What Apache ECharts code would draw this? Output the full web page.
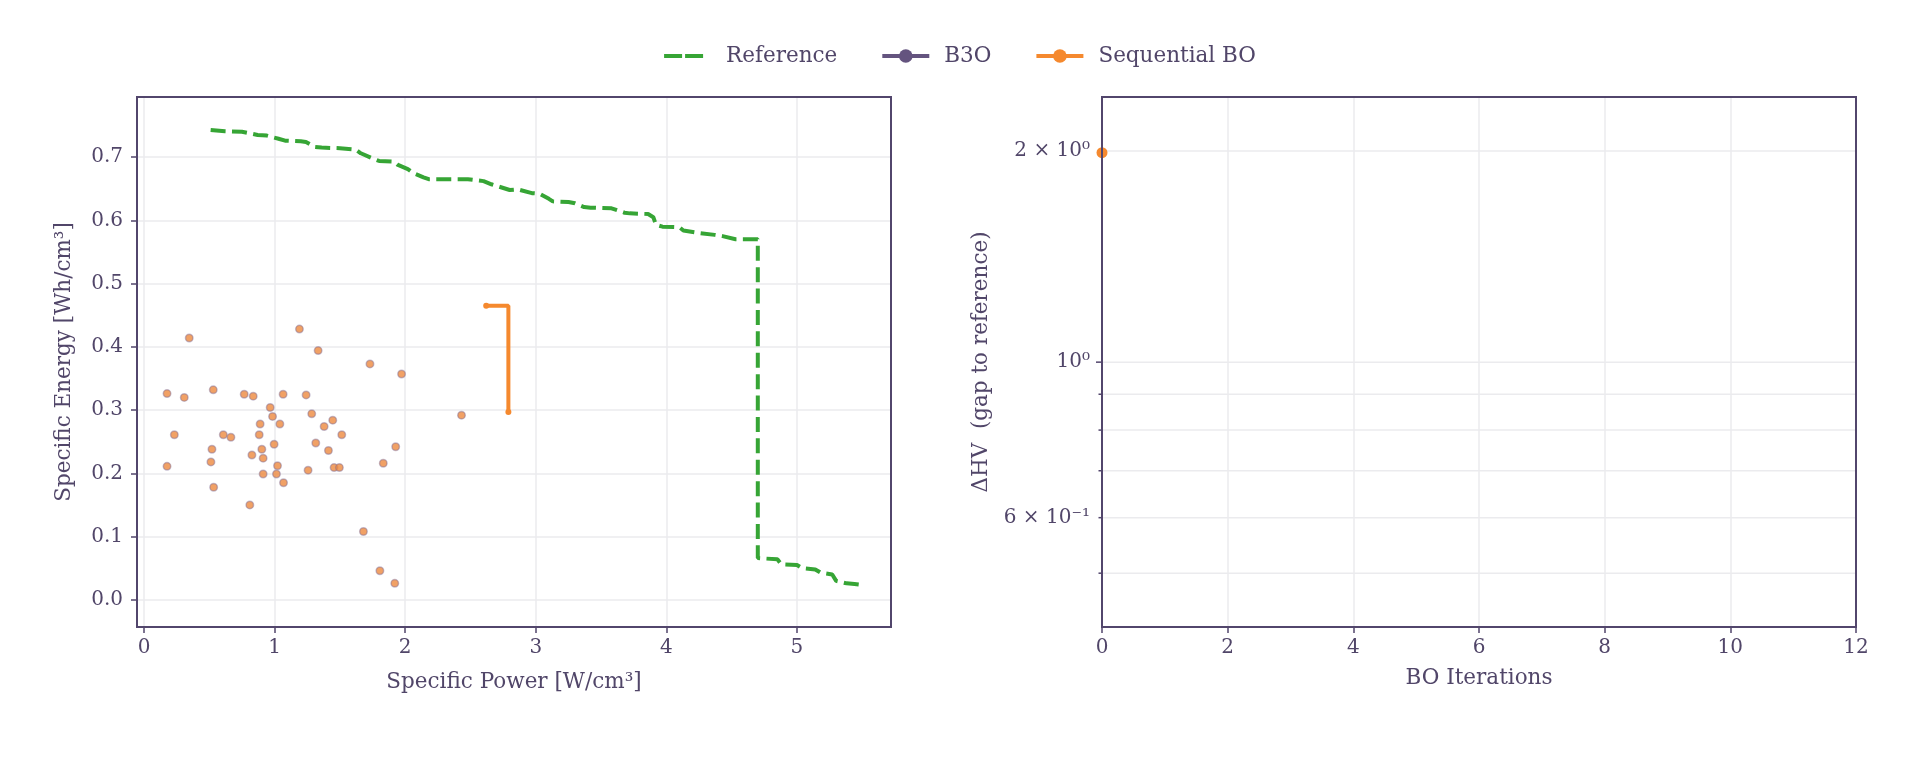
<!DOCTYPE html>
<html>
<head>
<meta charset="utf-8">
<script src="https://cdn.jsdelivr.net/npm/echarts@6/dist/echarts.min.js"></script>
<style>
html,body{margin:0;padding:0;background:#ffffff;}
#chart{width:1920px;height:760px;}
</style>
</head>
<body>
<div id="chart"></div>
<script>
// ---------- data ----------
const refPower  = [0.51,0.62,0.75,0.80,0.87,0.94,1.03,1.08,1.20,1.24,1.31,1.36,1.50,1.62,1.66,1.76,1.80,1.91,1.94,2.02,2.06,2.14,2.18,2.48,2.60,2.66,2.80,2.86,2.97,3.03,3.10,3.13,3.25,3.30,3.37,3.42,3.58,3.68,3.72,3.86,3.90,3.92,3.97,4.10,4.13,4.25,4.37,4.43,4.53,4.70,4.70,4.85,4.88,5.00,5.04,5.14,5.18,5.27,5.30,5.38,5.44,5.52];
const refEnergy = [0.743,0.741,0.740,0.738,0.735,0.734,0.729,0.726,0.725,0.724,0.716,0.715,0.714,0.712,0.706,0.697,0.694,0.693,0.688,0.681,0.675,0.668,0.665,0.665,0.662,0.657,0.648,0.649,0.643,0.642,0.634,0.630,0.629,0.627,0.621,0.620,0.619,0.612,0.611,0.610,0.605,0.593,0.590,0.589,0.584,0.580,0.577,0.575,0.570,0.570,0.066,0.064,0.056,0.055,0.050,0.048,0.043,0.040,0.030,0.026,0.025,0.023];

const samplePower  = [0.346,0.176,0.308,0.530,0.232,0.176,0.520,0.512,0.533,0.607,0.665,0.767,0.836,0.810,0.826,0.889,0.882,0.902,0.912,0.912,0.966,0.984,1.040,0.996,1.022,1.014,1.068,1.065,1.190,1.333,1.241,1.284,1.379,1.445,1.315,1.412,1.514,1.256,1.455,1.496,1.730,1.972,1.927,1.832,1.680,1.806,2.431,1.920];
const sampleEnergy = [0.414,0.326,0.320,0.332,0.261,0.211,0.238,0.218,0.178,0.261,0.257,0.325,0.322,0.150,0.229,0.278,0.261,0.238,0.224,0.199,0.304,0.290,0.278,0.246,0.212,0.199,0.185,0.325,0.428,0.394,0.324,0.294,0.274,0.284,0.248,0.236,0.261,0.205,0.209,0.209,0.373,0.357,0.242,0.216,0.108,0.046,0.292,0.026];

const seqParetoPower  = [2.62, 2.79];
const seqParetoEnergy = [0.465, 0.297];

const boIterations = [0];
const seqGap = [1.99];
const b3oGap = [];

const powerTicks  = [0, 1, 2, 3, 4, 5];
const energyTicks = [0, 0.1, 0.2, 0.3, 0.4, 0.5, 0.6, 0.7];
const gapTicks       = [0.5, 0.6, 0.7, 0.8, 0.9, 1, 2];
const gapTickLabels  = ['', '6 × 10⁻¹', '', '', '', '10⁰', '2 × 10⁰'];
const gapTickMajor   = [0, 0, 0, 0, 0, 1, 0];

// ---------- style ----------
const FONT = '"DejaVu Serif", serif';
const TXT = '#514669';
const SPINE = '#52466c';
const GRIDC = '#ebebee';
const GREEN = '#36a535';
const ORANGE = '#f5892e';
const PURPLE = '#64547f';

const zip = (a, b) => a.map((v, i) => [v, b[i]]);

const chart = echarts.init(document.getElementById('chart'), null, {renderer: 'canvas'});

const xMinR = 0, xMaxR = 12;

const option = {
  animation: false,
  backgroundColor: '#ffffff',
  legend: {
    top: 40,
    left: 'center',
    itemWidth: 47,
    itemHeight: 17,
    itemGap: 43,
    lineStyle: {width: 4},
    textStyle: {fontFamily: FONT, fontSize: 21.5, color: TXT, padding: [0, 0, 0, 10]},
    data: [
      {name: 'Reference', icon: 'path://M0,0L0.01,0Z M0,6.5H18V10.5H0Z M21,6.5H39V10.5H21Z M46.99,17L47,17Z'},
      {name: 'B3O'},
      {name: 'Sequential BO'}
    ]
  },
  grid: [
    {left: 137, top: 97, width: 754, height: 530, show: true, borderColor: SPINE, borderWidth: 2, z: 10},
    {left: 1102, top: 97, width: 754, height: 530, show: true, borderColor: SPINE, borderWidth: 2, z: 10}
  ],
  xAxis: [
    {
      type: 'value', gridIndex: 0, min: -0.054, max: 5.72,
      name: 'Specific Power [W/cm³]', nameLocation: 'middle', nameGap: 44,
      nameTextStyle: {fontFamily: FONT, fontSize: 21.5, color: TXT},
      axisLine: {show: false, onZero: false},
      axisTick: {show: true, length: 6, customValues: powerTicks, lineStyle: {color: SPINE, width: 1.5}},
      axisLabel: {customValues: powerTicks, margin: 11, fontFamily: FONT, fontSize: 20, color: TXT, formatter: v => String(v)},
      splitLine: {show: true, lineStyle: {color: GRIDC, width: 1.5}}
    },
    {
      type: 'value', gridIndex: 1, min: xMinR, max: xMaxR, interval: 2,
      name: 'BO Iterations', nameLocation: 'middle', nameGap: 40,
      nameTextStyle: {fontFamily: FONT, fontSize: 21.5, color: TXT},
      axisLine: {show: false, onZero: false},
      axisTick: {show: true, length: 6, lineStyle: {color: SPINE, width: 1.5}},
      axisLabel: {margin: 11, fontFamily: FONT, fontSize: 20, color: TXT},
      splitLine: {show: true, lineStyle: {color: GRIDC, width: 1.5}}
    }
  ],
  yAxis: [
    {
      type: 'value', gridIndex: 0, min: -0.043, max: 0.795,
      name: 'Specific Energy [Wh/cm³]', nameLocation: 'middle', nameGap: 62, nameRotate: 90,
      nameTextStyle: {fontFamily: FONT, fontSize: 21.5, color: TXT},
      axisLine: {show: false, onZero: false},
      axisTick: {show: true, length: 6, customValues: energyTicks, lineStyle: {color: SPINE, width: 1.5}},
      axisLabel: {customValues: energyTicks, margin: 14, fontFamily: FONT, fontSize: 20, color: TXT, formatter: v => v.toFixed(1)},
      splitLine: {show: true, lineStyle: {color: GRIDC, width: 1.5}}
    },
    {
      type: 'log', logBase: 10, gridIndex: 1, min: 0.419, max: 2.389,
      name: 'ΔHV  (gap to reference)', nameLocation: 'middle', nameGap: 110, nameRotate: 90,
      nameTextStyle: {fontFamily: FONT, fontSize: 21.5, color: TXT},
      axisLine: {show: false, onZero: false},
      axisTick: {show: false},
      axisLabel: {show: false},
      splitLine: {show: false},
      minorTick: {show: false},
      minorSplitLine: {show: false}
    }
  ],
  series: [
    {
      type: 'custom', name: 'gapAxis', xAxisIndex: 1, yAxisIndex: 1, silent: true, z: 1,
      data: gapTicks.map((v, i) => [xMinR, v, i]),
      renderItem: function (params, api) {
        const v = api.value(1);
        const i = api.value(2);
        const a = api.coord([xMinR, v]);
        const b = api.coord([xMaxR, v]);
        const len = gapTickMajor[i] ? 6 : 3.5;
        const children = [
          {type: 'line', shape: {x1: a[0], y1: a[1], x2: b[0], y2: b[1]}, style: {stroke: GRIDC, lineWidth: 1.5}},
          {type: 'line', shape: {x1: a[0] - len, y1: a[1], x2: a[0], y2: a[1]}, style: {stroke: SPINE, lineWidth: 1.5}}
        ];
        if (gapTickLabels[i]) {
          children.push({type: 'text', style: {text: gapTickLabels[i], x: a[0] - 12, y: a[1], align: 'right', verticalAlign: 'middle', fontFamily: FONT, fontSize: 20, fill: TXT}});
        }
        return {type: 'group', children: children};
      }
    },
    {
      type: 'scatter', name: 'Samples', xAxisIndex: 0, yAxisIndex: 0, z: 3,
      data: zip(samplePower, sampleEnergy),
      symbol: 'circle', symbolSize: 7.5,
      itemStyle: {color: '#ee8a3e', borderColor: 'rgba(125,108,150,0.55)', borderWidth: 1.5}
    },
    {
      type: 'line', name: 'Reference', xAxisIndex: 0, yAxisIndex: 0, z: 4,
      data: zip(refPower, refEnergy),
      showSymbol: false, symbol: 'none',
      color: GREEN,
      itemStyle: {color: GREEN},
      lineStyle: {color: GREEN, width: 4, type: [15, 6.4], cap: 'butt'}
    },
    {
      type: 'line', name: 'B3O', xAxisIndex: 0, yAxisIndex: 0,
      data: b3oGap.map((v, i) => [boIterations[i], v]),
      symbol: 'circle', symbolSize: 10,
      color: PURPLE, itemStyle: {color: PURPLE}, lineStyle: {color: PURPLE, width: 4}
    },
    {
      type: 'line', name: 'Sequential BO', xAxisIndex: 0, yAxisIndex: 0, z: 5,
      data: zip(seqParetoPower, seqParetoEnergy),
      step: 'end',
      symbol: 'circle', symbolSize: 6, showSymbol: true,
      color: ORANGE, itemStyle: {color: ORANGE}, lineStyle: {color: ORANGE, width: 4}
    },
    {
      type: 'line', name: 'Sequential BO', xAxisIndex: 1, yAxisIndex: 1, z: 5,
      data: zip(boIterations, seqGap),
      symbol: 'circle', symbolSize: 11, showSymbol: true,
      color: ORANGE, itemStyle: {color: ORANGE}, lineStyle: {color: ORANGE, width: 4}
    }
  ]
};

chart.setOption(option);
</script>
</body>
</html>
